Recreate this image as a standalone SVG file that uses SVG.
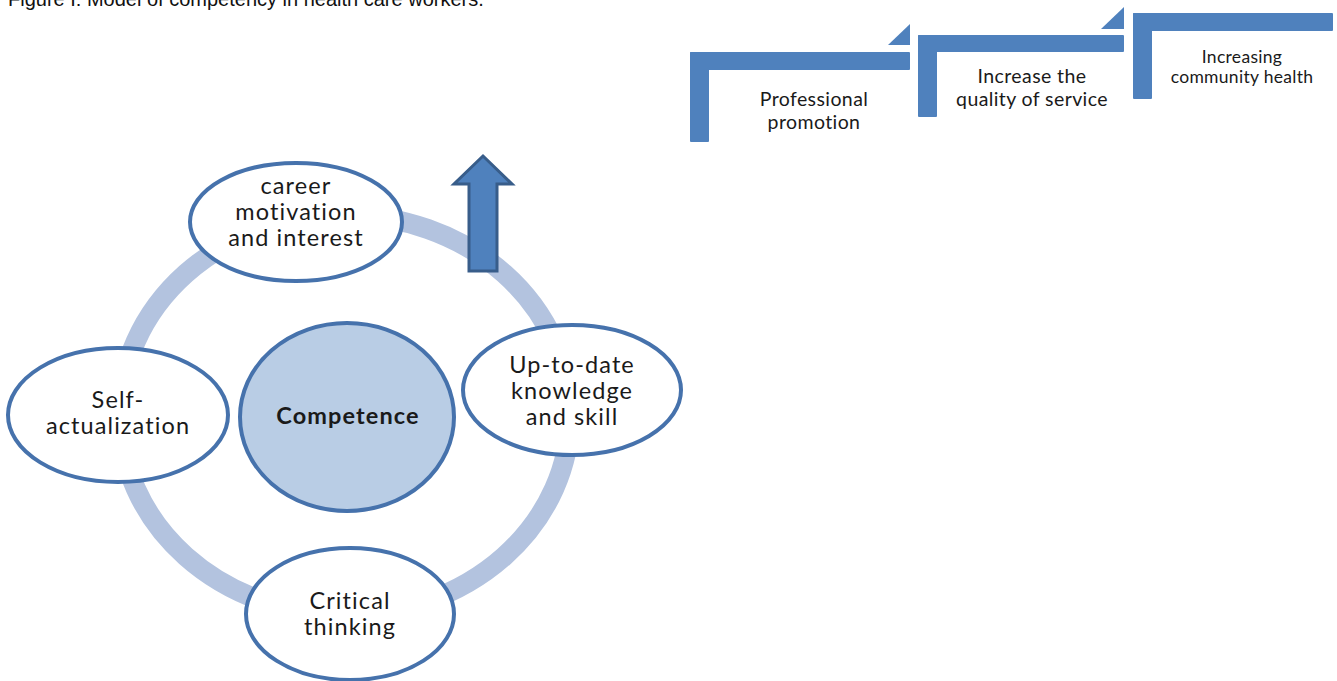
<svg xmlns="http://www.w3.org/2000/svg" width="1337" height="681" viewBox="0 0 1337 681">
  <defs>
    <style>
      .node { fill: #ffffff; stroke: #4672AC; stroke-width: 4; }
      .core { fill: #B9CDE5; stroke: #4672AC; stroke-width: 4; }
      .lbl { font-family: Lato, "Open Sans", sans-serif; font-size: 23.5px; letter-spacing: 1.1px; fill: #1a1a1a; text-anchor: middle; }
      .step { fill: #4F81BD; }
      .stxt { font-family: Lato, "Open Sans", sans-serif; font-size: 19.5px; letter-spacing: 0.4px; fill: #1a1a1a; text-anchor: middle; }
      .stxt-sm { font-family: Lato, "Open Sans", sans-serif; font-size: 17.5px; letter-spacing: 0.3px; fill: #1a1a1a; text-anchor: middle; }
      .cap { font-family: "Liberation Sans", Arial, sans-serif; font-size: 20px; fill: #111; }
    </style>
  </defs>
  <rect width="1337" height="681" fill="#ffffff"/>

  <text class="cap" x="8" y="6">Figure I: Model of competency in health care workers.</text>

  <!-- cycle ring joining the outer nodes -->
  <g id="connectors">
    <ellipse cx="345" cy="415" rx="225" ry="200" fill="none" stroke="#B3C3DF" stroke-width="20"/>
  </g>

  <!-- upward arrow -->
  <g id="up-arrow">
    <polygon points="483,156 512,184 497,184 497,271 469,271 469,184 454,184" fill="#4F81BD" stroke="#385D8A" stroke-width="3" stroke-linejoin="miter"/>
  </g>

  <g id="node-competence">
    <ellipse class="core" cx="347" cy="417" rx="107" ry="94"/>
    <text class="lbl" x="348" y="424" font-weight="bold" font-size="24" letter-spacing="0.6">Competence</text>
  </g>

  <g id="node-career">
    <ellipse class="node" cx="296" cy="222" rx="106" ry="59"/>
    <text class="lbl" x="296" y="194">career</text>
    <text class="lbl" x="296" y="220">motivation</text>
    <text class="lbl" x="296" y="246">and interest</text>
  </g>

  <g id="node-knowledge">
    <ellipse class="node" cx="572" cy="390" rx="109" ry="65"/>
    <text class="lbl" x="572" y="373">Up-to-date</text>
    <text class="lbl" x="572" y="399">knowledge</text>
    <text class="lbl" x="572" y="425">and skill</text>
  </g>

  <g id="node-self">
    <ellipse class="node" cx="118" cy="415" rx="110" ry="67"/>
    <text class="lbl" x="118" y="408">Self-</text>
    <text class="lbl" x="118" y="434">actualization</text>
  </g>

  <g id="node-critical">
    <ellipse class="node" cx="350" cy="614" rx="104" ry="66"/>
    <text class="lbl" x="350" y="609">Critical</text>
    <text class="lbl" x="350" y="635">thinking</text>
  </g>

  <!-- ascending steps -->
  <g id="step-promotion">
    <rect class="step" x="690" y="52" width="19" height="90" rx="1"/>
    <rect class="step" x="690" y="52" width="220" height="18" rx="1"/>
    <polygon class="step" points="888,45 910,45 910,24"/>
    <text class="stxt" x="814" y="106">Professional</text>
    <text class="stxt" x="814" y="129">promotion</text>
  </g>

  <g id="step-quality">
    <rect class="step" x="918" y="35" width="19" height="82" rx="1"/>
    <rect class="step" x="918" y="35" width="206" height="17" rx="1"/>
    <polygon class="step" points="1101,29 1124,29 1124,7"/>
    <text class="stxt" x="1032" y="83">Increase the</text>
    <text class="stxt" x="1032" y="106">quality of service</text>
  </g>

  <g id="step-health">
    <rect class="step" x="1133" y="13" width="19" height="86" rx="1"/>
    <rect class="step" x="1133" y="13" width="200" height="18" rx="1"/>
    <text class="stxt-sm" x="1242" y="63">Increasing</text>
    <text class="stxt-sm" x="1242" y="83">community health</text>
  </g>
</svg>
